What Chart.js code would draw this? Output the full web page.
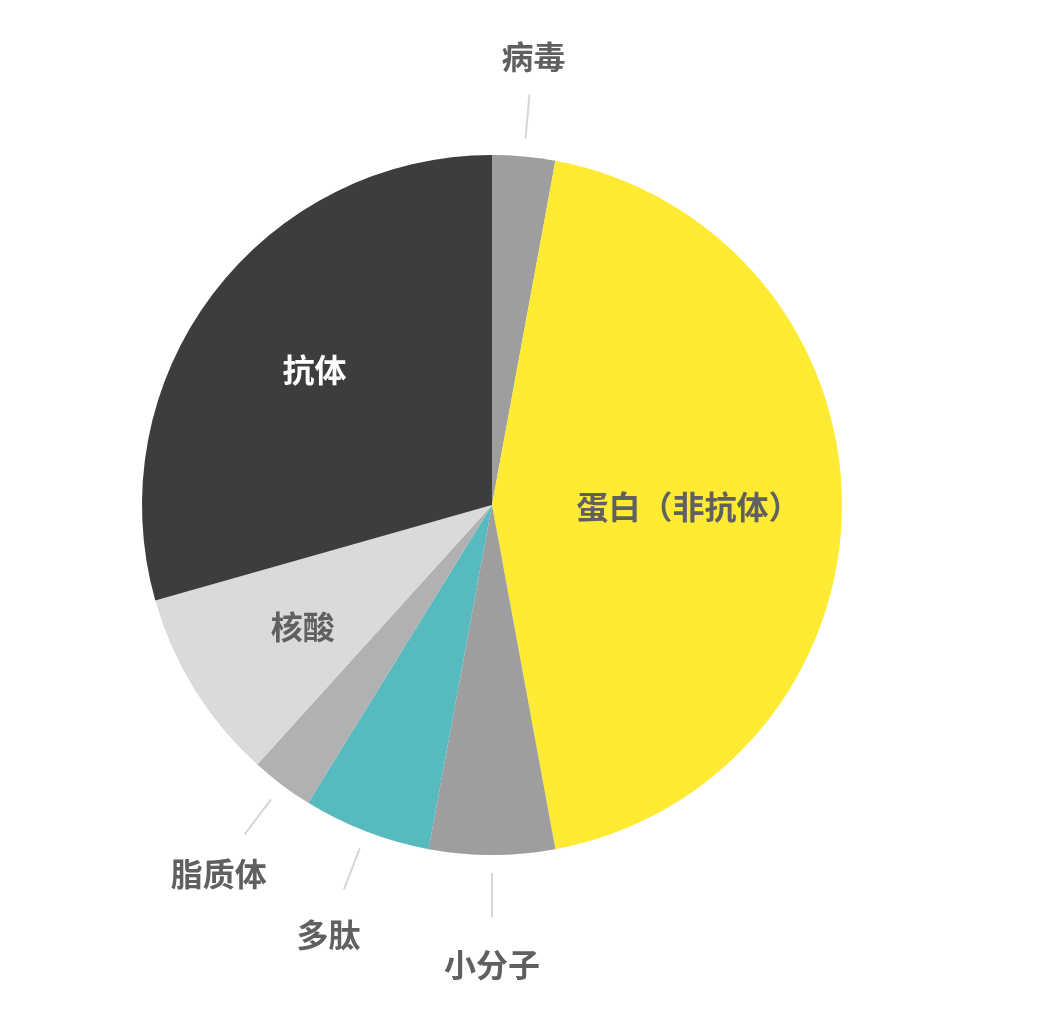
<!DOCTYPE html>
<html>
<head>
<meta charset="utf-8">
<script src="https://cdn.jsdelivr.net/npm/chart.js@4"></script>
<style>
  html, body { margin: 0; padding: 0; background: #fff; }
  canvas { display: block; }
</style>
</head>
<body>
<canvas id="pieChart" width="1040" height="1016"></canvas>
<script>
// shares in %, clockwise from 12 o'clock
const categories = ['病毒', '蛋白（非抗体）', '小分子', '多肽', '脂质体', '核酸', '抗体'];
const shares = [2.9, 44.2, 5.8, 5.9, 2.9, 8.9, 29.4];
const sliceColors = ['#9e9e9e', '#ffeb33', '#9e9e9e', '#56babf', '#b1b1b1', '#dadada', '#3d3d3d'];
const insideLabels = ['蛋白（非抗体）', '核酸', '抗体'];

const FONT = 'bold 32px "Noto Sans CJK SC", "Noto Sans", sans-serif';

// draws the slice names: big slices inside, small ones outside with a short leader line
const sliceLabels = {
  id: 'sliceLabels',
  afterDatasetsDraw(chart) {
    const ctx = chart.ctx;
    const meta = chart.getDatasetMeta(0);
    ctx.save();
    ctx.font = FONT;
    ctx.textAlign = 'center';
    ctx.textBaseline = 'middle';
    meta.data.forEach((arc, i) => {
      const { x, y, startAngle, endAngle, outerRadius } = arc.getProps(['x', 'y', 'startAngle', 'endAngle', 'outerRadius'], true);
      const mid = (startAngle + endAngle) / 2;
      const cos = Math.cos(mid), sin = Math.sin(mid);
      const name = categories[i];
      if (insideLabels.includes(name)) {
        const r = name.length > 3 ? outerRadius * 0.55 : outerRadius * 0.65;
        ctx.fillStyle = sliceColors[i] === '#3d3d3d' ? '#ffffff' : '#606060';
        ctx.fillText(name, x + cos * r + 4, y + sin * r + 2);
      } else {
        ctx.strokeStyle = '#d6d6d6';
        ctx.lineWidth = 2;
        ctx.beginPath();
        ctx.moveTo(x + cos * (outerRadius + 18), y + sin * (outerRadius + 18));
        ctx.lineTo(x + cos * (outerRadius + 62), y + sin * (outerRadius + 62));
        ctx.stroke();
        const r = outerRadius + 105;
        ctx.fillStyle = '#606060';
        ctx.fillText(name, x + cos * r, y + sin * r + 5);
      }
    });
    ctx.restore();
  }
};

const chart = new Chart(document.getElementById('pieChart').getContext('2d'), {
  type: 'pie',
  data: {
    labels: categories,
    datasets: [{
      data: shares,
      backgroundColor: sliceColors,
      borderWidth: 0,
      hoverOffset: 0,
      offset: 0
    }]
  },
  options: {
    responsive: false,
    devicePixelRatio: 1,
    animation: false,
    layout: { padding: { left: 142, right: 198, top: 155, bottom: 161 } },
    plugins: {
      legend: { display: false },
      tooltip: { enabled: false }
    }
  },
  plugins: [sliceLabels]
});
</script>
</body>
</html>
